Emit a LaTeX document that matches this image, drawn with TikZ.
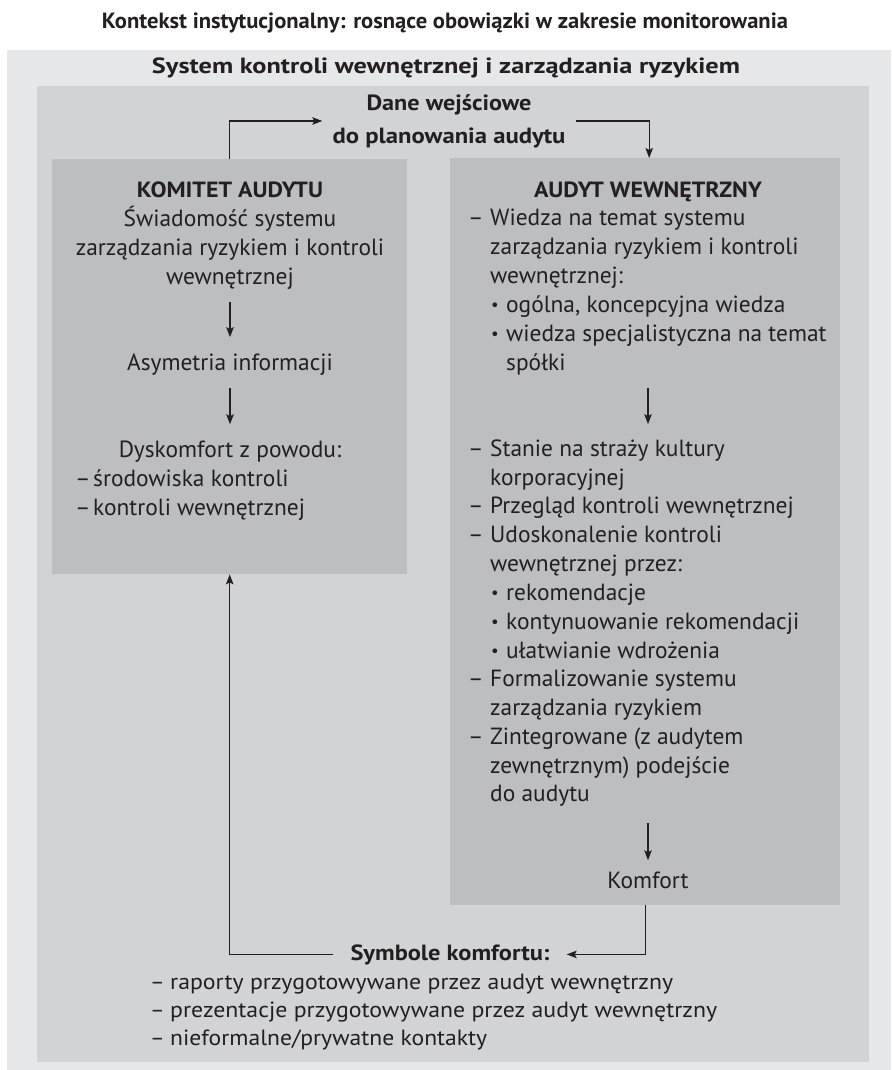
\documentclass[tikz,border=0pt]{standalone}
\usepackage{fontspec}
\setmainfont{PT Sans}
\usetikzlibrary{arrows.meta}
\definecolor{gA}{HTML}{E6E7E8}
\definecolor{gB}{HTML}{D1D3D4}
\definecolor{gC}{HTML}{BCBEC0}
\definecolor{ink}{HTML}{231F20}
\newcommand\rDash{\makebox[22pt][l]{–}}
\newcommand\rInd{\hspace*{22pt}}
\newcommand\rBul{\hspace*{23pt}\makebox[15pt][l]{\raisebox{1.6pt}{\scalebox{0.72}{•}}}}
\newcommand\rBInd{\hspace*{38pt}}
\newcommand\lDash{\makebox[18pt][l]{–}}
\newcommand\bDash{\makebox[20pt][l]{–}}
\begin{document}
\begin{tikzpicture}[x=1pt,y=-1pt,
  txt/.style={inner sep=0pt, text=ink, font=\fontsize{23.4}{27}\selectfont},
  bld/.style={inner sep=0pt, text=ink, font=\bfseries\fontsize{22}{26}\selectfont},
  panel/.style={fill=gC, draw=none, inner sep=0pt, anchor=north west},
  ln/.style={draw=ink, line width=1.2pt},
  arr/.style={ln, -{Stealth[length=10pt,width=7.5pt,inset=2pt]}}]
\useasboundingbox (0,0) rectangle (891,1070);
\fill[white] (0,0) rectangle (891,1070);
\fill[gA] (7,50) rectangle (891,1070);
\fill[gB] (37,86) rectangle (869,1062);

% panels
\node[panel, minimum width=355pt, minimum height=415pt] (kom) at (52,159) {};
\node[panel, minimum width=390pt, minimum height=747pt] (aud) at (450,158) {};

% titles
\node[bld, anchor=base] (title) at (445,29) {\resizebox{686pt}{\height}{Kontekst instytucjonalny: rosnące obowiązki w zakresie monitorowania}};
\node[bld, anchor=base] (sys) at (446,74) {\resizebox{588pt}{\height}{System kontroli wewnętrznej i zarządzania ryzykiem}};
\node[bld, align=center, inner xsep=10pt, font=\bfseries\fontsize{22}{33}\selectfont] (dane) at (449,121)
  {\resizebox{165pt}{\height}{Dane wejściowe}\\\resizebox{233pt}{\height}{do planowania audytu}};

% left panel text
\node[bld, anchor=base] (k0) at (230,197) {\resizebox{186pt}{\height}{KOMITET AUDYTU}};
\node[txt, anchor=base] (k1) at (230,226) {Świadomość systemu};
\node[txt, anchor=base] (k2) at (230,255) {zarządzania ryzykiem i kontroli};
\node[txt, anchor=base] (k3) at (230,284) {wewnętrznej};
\node[txt, anchor=base] (asym) at (230,370) {Asymetria informacji};
\node[txt, anchor=base] (dys) at (230,457) {Dyskomfort z powodu:};
\node[txt, anchor=base west] (d1) at (75,486) {\lDash środowiska kontroli};
\node[txt, anchor=base west] (d2) at (75,515) {\lDash kontroli wewnętrznej};

% right panel text
\node[bld, anchor=base] (a0) at (648,197) {\resizebox{228pt}{\height}{AUDYT WEWNĘTRZNY}};
\foreach \yy/\t [count=\i] in {
  225/{\rDash Wiedza na temat systemu},
  254/{\rInd zarządzania ryzykiem i kontroli},
  283/{\rInd wewnętrznej:},
  312/{\rBul ogólna, koncepcyjna wiedza},
  341/{\rBul wiedza specjalistyczna na temat},
  370/{\rBInd spółki}}
  \node[txt, anchor=base west] (w\i) at (468,\yy) {\t};
\foreach \yy/\t [count=\i] in {
  456/{\rDash Stanie na straży kultury},
  485/{\rInd korporacyjnej},
  513/{\rDash Przegląd kontroli wewnętrznej},
  542/{\rDash Udoskonalenie kontroli},
  571/{\rInd wewnętrznej przez:},
  600/{\rBul rekomendacje},
  629/{\rBul kontynuowanie rekomendacji},
  658/{\rBul ułatwianie wdrożenia},
  686/{\rDash Formalizowanie systemu},
  715/{\rInd zarządzania ryzykiem},
  744/{\rDash Zintegrowane (z audytem},
  773/{\rInd zewnętrznym) podejście},
  801/{\rInd do audytu}}
  \node[txt, anchor=base west] (s\i) at (468,\yy) {\t};
\node[txt, anchor=base] (komf) at (648,888) {Komfort};
\coordinate (axis) at (648,0);

% bottom
\node[bld, anchor=base, inner xsep=17pt] (sym) at (450,960) {\resizebox{199pt}{\height}{Symbole komfortu:}};
\node[txt, anchor=base west, font=\fontsize{22}{26}\selectfont] (b1) at (150,989) {\bDash\resizebox{503pt}{\height}{raporty przygotowywane przez audyt wewnętrzny}};
\node[txt, anchor=base west, font=\fontsize{22}{26}\selectfont] (b2) at (150,1017) {\bDash\resizebox{547pt}{\height}{prezentacje przygotowywane przez audyt wewnętrzny}};
\node[txt, anchor=base west, font=\fontsize{22}{26}\selectfont] (b3) at (150,1045) {\bDash\resizebox{317pt}{\height}{nieformalne/prywatne kontakty}};

% connectors
\draw[arr] (kom.north) |- (dane.west);
\draw[arr] (dane.east) -| ([xshift=4pt]aud.north);
\draw[arr, shorten <=13pt, shorten >=16pt] (k3.south) -- (asym.north);
\draw[arr, shorten <=13pt, shorten >=16pt] (asym.south) -- (dys.north);
\draw[arr, shorten <=13pt, shorten >=15pt] (w6.south -| axis) -- (s1.north -| axis);
\draw[arr, shorten <=17pt, shorten >=11pt] (s13.south -| axis) -- (komf.north);
\draw[arr] (aud.south) |- (sym.east);
\draw[arr] (sym.west) -| (kom.south);
\end{tikzpicture}
\end{document}
